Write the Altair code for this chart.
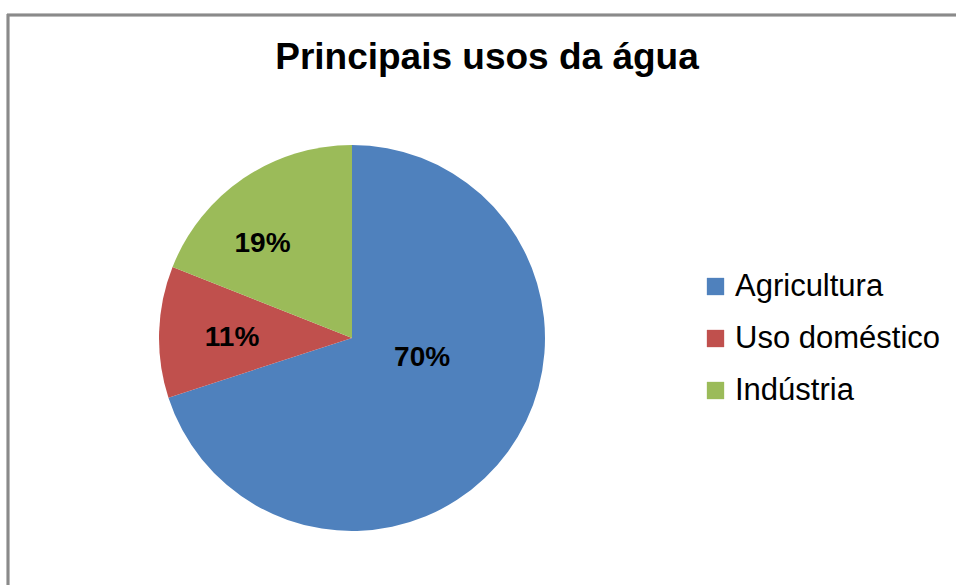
import altair as alt
import pandas as pd

categories = ["Agricultura", "Uso doméstico", "Indústria"]
values = [70, 11, 19]
colors = ["#4F81BD", "#C0504D", "#9BBB59"]
title_text = "Principais usos da água"

df = pd.DataFrame({"categoria": categories, "valor": values, "ordem": list(range(len(categories)))})

CX, CY, R = 352, 338, 193
FONT = "Liberation Sans"

base = alt.Chart(df)

color_enc = alt.Color(
    "categoria:N",
    scale=alt.Scale(domain=categories, range=colors),
    sort=categories,
    legend=alt.Legend(
        title=None,
        orient="none",
        legendX=700,
        legendY=271,
        symbolType="square",
        symbolSize=300,
        symbolStrokeWidth=0,
        labelFontSize=31,
        labelFont=FONT,
        labelColor="#000000",
        labelOffset=4,
        labelLimit=400,
        rowPadding=20,
        padding=0,
    ),
)

pie = base.mark_arc(outerRadius=R).encode(
    theta=alt.Theta("valor:Q", stack=True),
    order=alt.Order("ordem:Q"),
    color=color_enc,
    x=alt.value(CX),
    y=alt.value(CY),
)

label_offsets = {"Agricultura": (-27, -51), "Uso doméstico": (0, 4), "Indústria": (-22, 5)}

labels = []
for cat, (dx, dy) in label_offsets.items():
    labels.append(
        base.transform_calculate(rotulo="datum.valor + '%'")
        .transform_stack(stack="valor", groupby=[], as_=["v0", "v1"], sort=[alt.SortField("ordem")])
        .transform_calculate(mid="(datum.v0 + datum.v1) / 2 / 100 * 2 * PI")
        .transform_filter(alt.datum.categoria == cat)
        .mark_text(
            radius=120, fontSize=28, fontWeight="bold", font=FONT, color="#000000",
            align="center", baseline="middle", dx=dx, dy=dy,
        )
        .encode(
            theta=alt.Theta("mid:Q", scale=None),
            text="rotulo:N",
            x=alt.value(CX),
            y=alt.value(CY),
        )
    )

border_color = "#8a8a8a"
top_line = base.mark_rule(color=border_color, strokeWidth=2.5).encode(
    x=alt.value(7), x2=alt.value(956), y=alt.value(15)
)
left_line = base.mark_rule(color=border_color, strokeWidth=2.5).encode(
    x=alt.value(8), y=alt.value(14), y2=alt.value(585)
)

chart = (
    alt.layer(top_line, left_line, pie, *labels)
    .properties(
        width=956,
        height=585,
        padding=0,
        autosize=alt.AutoSizeParams(type="none"),
        background="white",
        title=alt.TitleParams(
            title_text, anchor="middle", fontSize=37, fontWeight="bold", font=FONT,
            color="#000000", dx=9, dy=110, baseline="alphabetic",
        ),
    )
    .configure_view(stroke=None)
)

chart.save("out.html", embed_options={"renderer": "svg", "actions": False})
